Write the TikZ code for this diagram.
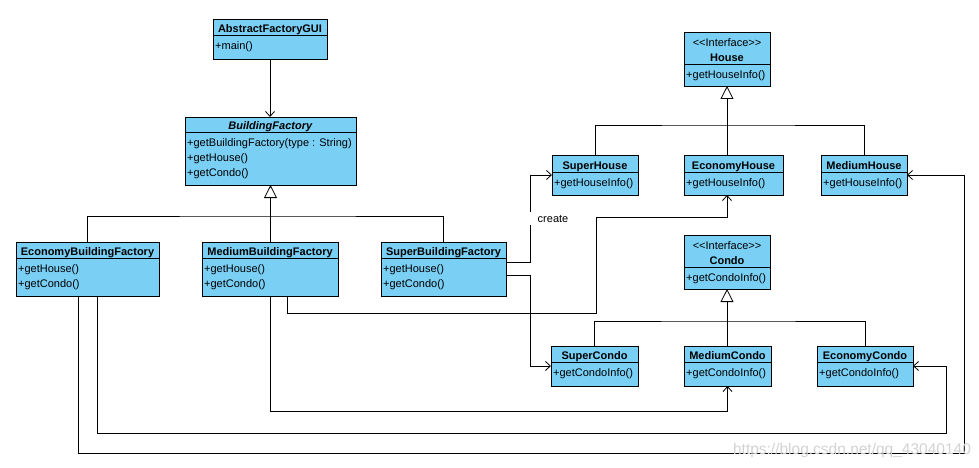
\documentclass[tikz,border=0pt]{standalone}
\usepackage{fontspec}
\setmainfont{Liberation Sans}[Ligatures=TeXOff]
\usetikzlibrary{arrows.meta,calc}
\definecolor{classblue}{RGB}{122,207,245}
\tikzstyle{classbox} = [draw, fill=classblue, line width=.9pt, inner sep=0pt, outer sep=0pt]
\tikzstyle{classhead} = [inner sep=0pt, align=center, font=\fontsize{11}{15}\selectfont\bfseries]
\tikzstyle{classbody} = [inner sep=0pt, align=left, font=\fontsize{11}{15}\selectfont]
\tikzstyle{depend} = [line width=.8pt, -{Straight Barb[length=5pt,width=9pt]}]
\tikzstyle{general} = [line width=.8pt, -{Triangle[open,length=13pt,width=13pt]}]
\tikzstyle{plain} = [line width=.8pt]
% name, x, y, width, header height, height, header, body
\newcommand{\umlclass}[8]{%
  \node[classbox, minimum width=#4pt, minimum height=#6pt, anchor=north west] (#1) at (#2,#3) {};
  \draw[line width=.9pt] (#2,#3+#5) -- ++(#4,0);
  \node[classhead, anchor=south] at (#2+#4/2,#3+#5+2.5) {\strut#7};
  \node[classbody, anchor=north west] at (#2+2,#3+#5+4) {\strut#8};
}

\begin{document}
\begin{tikzpicture}[x=1pt, y=-1pt]
    \useasboundingbox (0,0) rectangle (979,468);
    \umlclass{gui}{213}{19}{114}{16}{40}{AbstractFactoryGUI}{+main()}
    \umlclass{bf}{185}{117}{171}{15}{68}{\textit{BuildingFactory}}{+getBuildingFactory(type : String)\\+getHouse()\\+getCondo()}
    \umlclass{ebf}{16}{242}{143}{16}{54}{EconomyBuildingFactory}{+getHouse()\\+getCondo()}
    \umlclass{mbf}{202}{242}{136}{16}{54}{MediumBuildingFactory}{+getHouse()\\+getCondo()}
    \umlclass{sbf}{381}{242}{125}{16}{54}{SuperBuildingFactory}{+getHouse()\\+getCondo()}
    \umlclass{house}{684}{32}{86}{32}{54}{{\mdseries<<Interface>>}\\\strut House}{+getHouseInfo()}
    \umlclass{shouse}{552}{155}{86}{17}{40}{SuperHouse}{+getHouseInfo()}
    \umlclass{ehouse}{684}{155}{99}{17}{40}{EconomyHouse}{+getHouseInfo()}
    \umlclass{mhouse}{821}{155}{86}{17}{40}{MediumHouse}{+getHouseInfo()}
    \umlclass{condo}{684}{235}{86}{32}{54}{{\mdseries<<Interface>>}\\\strut Condo}{+getCondoInfo()}
    \umlclass{scondo}{551}{346}{87}{16}{40}{SuperCondo}{+getCondoInfo()}
    \umlclass{mcondo}{684}{346}{87}{16}{40}{MediumCondo}{+getCondoInfo()}
    \umlclass{econdo}{817}{346}{96}{16}{40}{EconomyCondo}{+getCondoInfo()}

    \coordinate (fork1) at (270,216);
    \coordinate (fork2) at (727,125);
    \coordinate (fork3) at (727,321);
    \coordinate (eturn) at (596,313);
    \coordinate (eup) at (727,217);
    \coordinate (cturn) at (946,433);
    \coordinate (hturn) at (964,453);

    \draw [depend] (gui.south) -- (gui.south |- bf.north);
    \draw [general] (bf.south |- mbf.north) -- (bf.south);
    \draw [plain] (ebf.north) |- (fork1) -| (sbf.north);
    \draw [general] (house.south |- ehouse.north) -- (house.south);
    \draw [plain] (shouse.north) |- (fork2) -| (mhouse.north);
    \draw [general] (condo.south |- mcondo.north) -- (condo.south);
    \draw [plain] (scondo.north) |- (fork3) -| (econdo.north);

    \draw [depend] ([yshift=7pt]sbf.east) -- ++(24,0) |- node [pos=.25, fill=white, xshift=23pt, inner xsep=14pt, inner ysep=3pt, font=\fontsize{11}{13}\selectfont] {create} (shouse.west);
    \draw [depend] ([yshift=-6pt]sbf.east) -- ++(24,0) |- (scondo.west);
    \draw [depend] ([xshift=17pt]mbf.south) |- (eturn) |- (eup) -- (house.south |- ehouse.south);
    \draw [depend] (mbf.south) -- ++(0,115) -| (mcondo.south);
    \draw [depend] ([xshift=10pt]ebf.south) |- (cturn) |- (econdo.east);
    \draw [depend] ([xshift=-9pt]ebf.south) |- (hturn) |- (mhouse.east);

    \node [text=gray!35, font=\fontsize{15.5}{18}\selectfont] (wm) at (852,450) {https://blog.csdn.net/qq\_43040140};
\end{tikzpicture}
\end{document}
